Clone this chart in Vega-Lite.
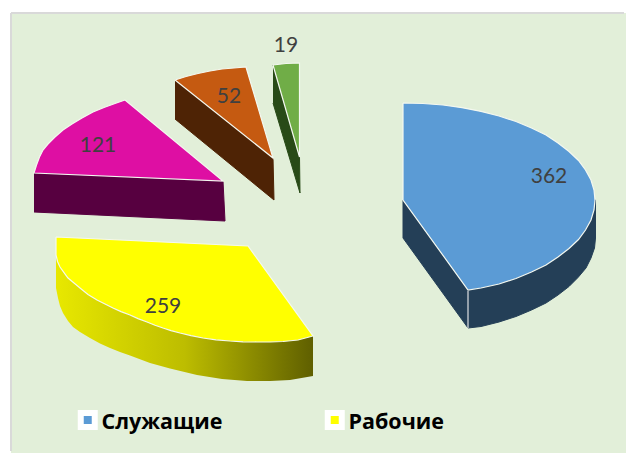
{
"$schema":"https://vega.github.io/schema/vega-lite/v6.json",
"width":626,"height":453,"autosize":{"type":"fit","contains":"padding"},"padding":0,
"background":"white","view":{"stroke":null},
"datasets":{
"panel":[{"x":11,"x2":626,"y":13,"y2":453}],
"frame":[{"x":11,"x2":624,"y":13,"y2":13},{"x":11,"x2":11,"y":13,"y2":451}],
"edge":[{"x":468,"x2":468,"y":291,"y2":328}],
"slices":[
{"category":"Служащие","value":362,"lx":549,"ly":176.5},
{"category":"Рабочие","value":259,"lx":163,"ly":307},
{"category":"Специалисты","value":121,"lx":98,"ly":146},
{"category":"Руководители","value":52,"lx":229,"ly":97},
{"category":"Прочие","value":19,"lx":286,"ly":46}],
"top":[
{"category":"Служащие","o":1,"x":403,"y":103},{"category":"Служащие","o":2,"x":423,"y":103.5},{"category":"Служащие","o":3,"x":443,"y":105},{"category":"Служащие","o":4,"x":462,"y":107.7},{"category":"Служащие","o":5,"x":481,"y":111.4},{"category":"Служащие","o":6,"x":499,"y":116},{"category":"Служащие","o":7,"x":516,"y":121.5},{"category":"Служащие","o":8,"x":531.5,"y":128},{"category":"Служащие","o":9,"x":546,"y":135},{"category":"Служащие","o":10,"x":558,"y":143},{"category":"Служащие","o":11,"x":569,"y":151.5},{"category":"Служащие","o":12,"x":578.5,"y":160.5},{"category":"Служащие","o":13,"x":585.5,"y":170},{"category":"Служащие","o":14,"x":591,"y":180},{"category":"Служащие","o":15,"x":594,"y":190},{"category":"Служащие","o":16,"x":595,"y":200},{"category":"Служащие","o":17,"x":594,"y":210},{"category":"Служащие","o":18,"x":591,"y":220},{"category":"Служащие","o":19,"x":585.5,"y":230},{"category":"Служащие","o":20,"x":578.5,"y":239.5},{"category":"Служащие","o":21,"x":569,"y":248.5},{"category":"Служащие","o":22,"x":558,"y":257},{"category":"Служащие","o":23,"x":546,"y":265},{"category":"Служащие","o":24,"x":531.5,"y":272},{"category":"Служащие","o":25,"x":516,"y":278.5},{"category":"Служащие","o":26,"x":499,"y":284},{"category":"Служащие","o":27,"x":481,"y":288},{"category":"Служащие","o":28,"x":468,"y":290},{"category":"Служащие","o":29,"x":403,"y":200},{"category":"Служащие","o":30,"x":403,"y":103},
{"category":"Рабочие","o":1,"x":56,"y":237},{"category":"Рабочие","o":2,"x":248,"y":246},{"category":"Рабочие","o":3,"x":313,"y":336},{"category":"Рабочие","o":4,"x":298,"y":340},{"category":"Рабочие","o":5,"x":283,"y":341.5},{"category":"Рабочие","o":6,"x":270,"y":342},{"category":"Рабочие","o":7,"x":257,"y":342},{"category":"Рабочие","o":8,"x":243,"y":341.8},{"category":"Рабочие","o":9,"x":230,"y":341},{"category":"Рабочие","o":10,"x":216,"y":339.8},{"category":"Рабочие","o":11,"x":203,"y":338},{"category":"Рабочие","o":12,"x":191,"y":335.6},{"category":"Рабочие","o":13,"x":180,"y":333},{"category":"Рабочие","o":14,"x":171,"y":330.6},{"category":"Рабочие","o":15,"x":163,"y":328},{"category":"Рабочие","o":16,"x":155,"y":325.2},{"category":"Рабочие","o":17,"x":147,"y":322},{"category":"Рабочие","o":18,"x":138,"y":318.6},{"category":"Рабочие","o":19,"x":130,"y":315},{"category":"Рабочие","o":20,"x":121,"y":311.6},{"category":"Рабочие","o":21,"x":113,"y":308},{"category":"Рабочие","o":22,"x":105,"y":304},{"category":"Рабочие","o":23,"x":97,"y":300},{"category":"Рабочие","o":24,"x":88,"y":294.4},{"category":"Рабочие","o":25,"x":80,"y":288},{"category":"Рабочие","o":26,"x":74,"y":283},{"category":"Рабочие","o":27,"x":68,"y":278},{"category":"Рабочие","o":28,"x":64,"y":272.6},{"category":"Рабочие","o":29,"x":60,"y":267},{"category":"Рабочие","o":30,"x":57.5,"y":261.5},{"category":"Рабочие","o":31,"x":56,"y":255},{"category":"Рабочие","o":32,"x":56,"y":237},
{"category":"Специалисты","o":1,"x":125,"y":100},{"category":"Специалисты","o":2,"x":223,"y":181},{"category":"Специалисты","o":3,"x":34,"y":173},{"category":"Специалисты","o":4,"x":36.5,"y":165},{"category":"Специалисты","o":5,"x":39.5,"y":157},{"category":"Специалисты","o":6,"x":43,"y":150},{"category":"Специалисты","o":7,"x":48,"y":144},{"category":"Специалисты","o":8,"x":55,"y":137},{"category":"Специалисты","o":9,"x":63,"y":130},{"category":"Специалисты","o":10,"x":72,"y":124},{"category":"Специалисты","o":11,"x":82,"y":118},{"category":"Специалисты","o":12,"x":93,"y":112},{"category":"Специалисты","o":13,"x":104,"y":107.5},{"category":"Специалисты","o":14,"x":115,"y":103.5},{"category":"Специалисты","o":15,"x":125,"y":100},
{"category":"Руководители","o":1,"x":175,"y":80},{"category":"Руководители","o":2,"x":186,"y":76.5},{"category":"Руководители","o":3,"x":198,"y":73.5},{"category":"Руководители","o":4,"x":210,"y":71},{"category":"Руководители","o":5,"x":222,"y":69},{"category":"Руководители","o":6,"x":234,"y":68},{"category":"Руководители","o":7,"x":246,"y":67},{"category":"Руководители","o":8,"x":273,"y":158},{"category":"Руководители","o":9,"x":175,"y":80},
{"category":"Прочие","o":1,"x":273,"y":65},{"category":"Прочие","o":2,"x":286,"y":63.5},{"category":"Прочие","o":3,"x":299.5,"y":63},{"category":"Прочие","o":4,"x":299.5,"y":157},{"category":"Прочие","o":5,"x":273,"y":65}],
"side":[
{"category":"Служащие","o":1,"x":403,"y":200},{"category":"Служащие","o":2,"x":403,"y":238},{"category":"Служащие","o":3,"x":468,"y":328},{"category":"Служащие","o":4,"x":481,"y":326.5},{"category":"Служащие","o":5,"x":499,"y":322},{"category":"Служащие","o":6,"x":516,"y":316.5},{"category":"Служащие","o":7,"x":531.5,"y":310},{"category":"Служащие","o":8,"x":546,"y":303},{"category":"Служащие","o":9,"x":558,"y":295},{"category":"Служащие","o":10,"x":569,"y":286.5},{"category":"Служащие","o":11,"x":578,"y":277.5},{"category":"Служащие","o":12,"x":586,"y":268},{"category":"Служащие","o":13,"x":591,"y":258},{"category":"Служащие","o":14,"x":594.5,"y":248},{"category":"Служащие","o":15,"x":595.5,"y":238},{"category":"Служащие","o":16,"x":595.5,"y":200},{"category":"Служащие","o":17,"x":468,"y":290},
{"category":"Рабочие","o":1,"x":56,"y":255},{"category":"Рабочие","o":2,"x":56,"y":288},{"category":"Рабочие","o":3,"x":58,"y":298},{"category":"Рабочие","o":4,"x":60,"y":306},{"category":"Рабочие","o":5,"x":63,"y":313},{"category":"Рабочие","o":6,"x":68,"y":321},{"category":"Рабочие","o":7,"x":73,"y":327},{"category":"Рабочие","o":8,"x":80,"y":332},{"category":"Рабочие","o":9,"x":90,"y":338},{"category":"Рабочие","o":10,"x":100,"y":343.5},{"category":"Рабочие","o":11,"x":110,"y":348},{"category":"Рабочие","o":12,"x":120,"y":352},{"category":"Рабочие","o":13,"x":130,"y":355.5},{"category":"Рабочие","o":14,"x":150,"y":363},{"category":"Рабочие","o":15,"x":170,"y":368.5},{"category":"Рабочие","o":16,"x":197,"y":375},{"category":"Рабочие","o":17,"x":222,"y":379},{"category":"Рабочие","o":18,"x":247,"y":381},{"category":"Рабочие","o":19,"x":270,"y":381},{"category":"Рабочие","o":20,"x":290,"y":380},{"category":"Рабочие","o":21,"x":313,"y":376},{"category":"Рабочие","o":22,"x":313,"y":336},{"category":"Рабочие","o":23,"x":200,"y":300},
{"category":"Специалисты","o":1,"x":34,"y":173},{"category":"Специалисты","o":2,"x":223,"y":181},{"category":"Специалисты","o":3,"x":225,"y":221},{"category":"Специалисты","o":4,"x":34,"y":212},
{"category":"Руководители","o":1,"x":175,"y":80},{"category":"Руководители","o":2,"x":273,"y":158},{"category":"Руководители","o":3,"x":274,"y":200},{"category":"Руководители","o":4,"x":175,"y":119},
{"category":"Прочие","o":1,"x":273,"y":65},{"category":"Прочие","o":2,"x":299.5,"y":157},{"category":"Прочие","o":3,"x":300,"y":193},{"category":"Прочие","o":4,"x":273,"y":103}]
},
"layer":[
{"data":{"name":"panel"},"mark":{"type":"rect","fill":"#E2EFD9"},
"encoding":{"x":{"field":"x","type":"quantitative","scale":{"domain":[0,626],"nice":false,"zero":false},"axis":null},"x2":{"field":"x2"},"y":{"field":"y","type":"quantitative","scale":{"domain":[453,0],"nice":false,"zero":false},"axis":null},"y2":{"field":"y2"}}},
{"data":{"name":"frame"},"mark":{"type":"rule","stroke":"#D9D9D9","strokeWidth":2},"encoding":{"x":{"field":"x","type":"quantitative"},"x2":{"field":"x2"},"y":{"field":"y","type":"quantitative"},"y2":{"field":"y2"}}},
{"data":{"name":"side"},"transform":[{"filter":"datum.category==='Служащие'"}],"mark":{"type":"line","fill":"#243F57","stroke":"#243F57","strokeWidth":1},"encoding":{"x":{"field":"x","type":"quantitative"},"y":{"field":"y","type":"quantitative"},"order":{"field":"o"}}},
{"data":{"name":"edge"},"mark":{"type":"rule","stroke":"#B8C0C6","strokeWidth":1.5},"encoding":{"x":{"field":"x","type":"quantitative"},"y":{"field":"y","type":"quantitative"},"y2":{"field":"y2"}}},
{"data":{"name":"side"},"transform":[{"filter":"datum.category==='Рабочие'"}],"mark":{"type":"line","stroke":null,"fill":{"gradient":"linear","x1":0,"x2":1,"y1":0,"y2":0,"stops":[{"offset":0,"color":"#E8E800"},{"offset":0.5,"color":"#BDBD00"},{"offset":1,"color":"#5F5F00"}]}},"encoding":{"x":{"field":"x","type":"quantitative"},"y":{"field":"y","type":"quantitative"},"order":{"field":"o"}}},
{"data":{"name":"side"},"transform":[{"filter":"datum.category==='Специалисты'"}],"mark":{"type":"line","fill":"#570040","stroke":"#570040","strokeWidth":1},"encoding":{"x":{"field":"x","type":"quantitative"},"y":{"field":"y","type":"quantitative"},"order":{"field":"o"}}},
{"data":{"name":"side"},"transform":[{"filter":"datum.category==='Руководители'"}],"mark":{"type":"line","fill":"#4E2305","stroke":"#4E2305","strokeWidth":1},"encoding":{"x":{"field":"x","type":"quantitative"},"y":{"field":"y","type":"quantitative"},"order":{"field":"o"}}},
{"data":{"name":"side"},"transform":[{"filter":"datum.category==='Прочие'"}],"mark":{"type":"line","fill":"#284A17","stroke":"#284A17","strokeWidth":1},"encoding":{"x":{"field":"x","type":"quantitative"},"y":{"field":"y","type":"quantitative"},"order":{"field":"o"}}},
{"data":{"name":"top"},"mark":{"type":"line","stroke":"#F4F8F0","strokeWidth":1.2},
"encoding":{"x":{"field":"x","type":"quantitative"},"y":{"field":"y","type":"quantitative"},"order":{"field":"o"},
"fill":{"field":"category","type":"nominal","scale":{"domain":["Служащие","Рабочие","Специалисты","Руководители","Прочие"],"range":["#5B9BD5","#FFFF00","#DE0FA3","#C55A11","#70AD47"]},
"legend":{"title":null,"orient":"none","legendX":77,"legendY":409,"values":["Служащие","Рабочие"],"direction":"horizontal","columns":2,"columnPadding":92,"symbolType":"square","symbolSize":196,"symbolStrokeColor":"white","symbolStrokeWidth":6,"labelFont":"Open Sans","labelFontWeight":"bold","labelFontSize":21.5,"labelColor":"black","labelOffset":3,"encode":{"labels":{"update":{"dy":{"value":3}}}}}}}},
{"data":{"name":"slices"},"mark":{"type":"text","font":"Lato","fontSize":21,"color":"#404040"},
"encoding":{"x":{"field":"lx","type":"quantitative"},"y":{"field":"ly","type":"quantitative"},"text":{"field":"value","type":"quantitative"}}}
]
}
